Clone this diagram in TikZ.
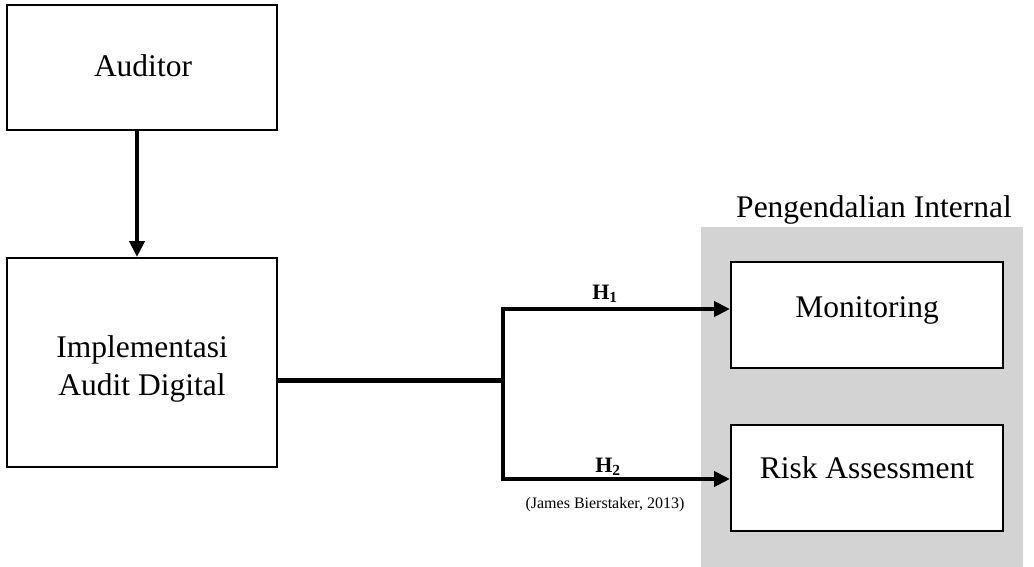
\documentclass[tikz,border=0pt]{standalone}
\usepackage{fontspec}
\setmainfont{Liberation Serif}
\usetikzlibrary{arrows.meta}
\definecolor{panelgray}{RGB}{211,211,211}
\begin{document}
\begin{tikzpicture}[x=1pt,y=-1pt,
  box/.style={draw,line width=2pt,fill=white,inner sep=0pt},
  main/.style={font=\fontsize{31.5}{38}\selectfont,anchor=base,inner sep=0pt},
  hyp/.style={font=\fontsize{22}{26}\selectfont\bfseries,anchor=base,inner sep=0pt},
  arr/.style={line width=4pt,line join=miter,-{Triangle[length=16pt,width=15pt]}},
]
\useasboundingbox (0,0) rectangle (1034,567);
% panel
\node[fill=panelgray,inner sep=0pt,minimum width=322pt,minimum height=340pt] (panel) at (862,397) {};
\node[main] (ptitle) at (874,217) {Pengendalian Internal};
% boxes
\node[box,minimum width=270pt,minimum height=125pt] (aud) at (142,67.5) {};
\node[box,minimum width=270pt,minimum height=209pt] (impl) at (142,362.5) {};
\node[box,minimum width=272pt,minimum height=106pt] (mon) at (867,315) {};
\node[box,minimum width=272pt,minimum height=106pt] (risk) at (867,478) {};
% texts
\node[main] (taud) at (143,77) {Auditor};
\node[main] (timpl1) at (142,357) {Implementasi};
\node[main] (timpl2) at (142,395) {Audit Digital};
\node[main] (tmon) at (867,317) {Monitoring};
\node[main] (trisk) at (867,478) {Risk Assessment};
% connectors
\coordinate (j) at (503,380);
\coordinate (jt) at (503,309);
\coordinate (jb) at (503,479);
\draw[arr] ([xshift=-5pt]aud.south) -- ([xshift=-5pt]impl.north);
\draw[line width=5pt] (impl.east |- j) -- (j);
\draw[arr] (jb) -- (jt) -- (mon.west |- jt);
\draw[arr] (jt) -- (jb) -- (risk.west |- jb);
% labels
\node[hyp] (h1) at (605,299) {H\textsubscript{1}};
\node[hyp] (h2) at (608,472) {H\textsubscript{2}};
\node[anchor=base,inner sep=0pt,font=\fontsize{16}{19}\selectfont] (cite) at (605,508) {(James Bierstaker, 2013)};
\end{tikzpicture}
\end{document}
